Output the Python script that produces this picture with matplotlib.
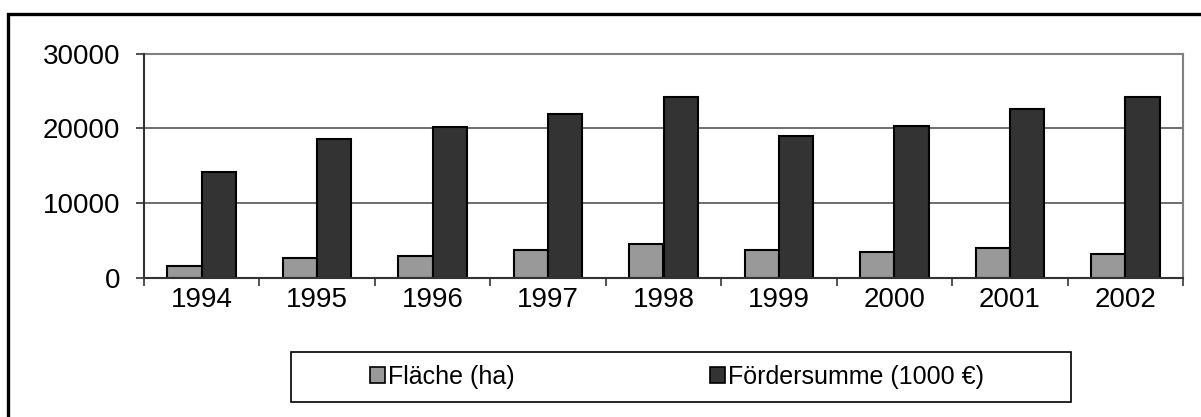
import matplotlib
matplotlib.use("Agg")
import matplotlib.pyplot as plt
from matplotlib.patches import Rectangle, Patch
import numpy as np

plt.rcParams['font.family'] = ['Liberation Sans', 'DejaVu Sans']

years = ["1994", "1995", "1996", "1997", "1998", "1999", "2000", "2001", "2002"]
flaeche = [1600, 2700, 2950, 3700, 4500, 3700, 3450, 3980, 3250]
foerdersumme = [14100, 18600, 20200, 21850, 24250, 18950, 20250, 22650, 24200]
series_labels = ["Fläche (ha)", "Fördersumme (1000 €)"]
yticks = [0, 10000, 20000, 30000]

W, H = 1201, 417
fig = plt.figure(figsize=(W / 100, H / 100), dpi=100)

# outer frame (only left and top visible)
fig.patches.append(Rectangle((8 / W, -0.1), 1.2, (H - 14.5) / H + 0.1,
                             transform=fig.transFigure, fill=False,
                             edgecolor='black', linewidth=2.4))

ax_l, ax_r, ax_t, ax_b = 144, 1183, 53.5, 278
ax = fig.add_axes([ax_l / W, (H - ax_b) / H, (ax_r - ax_l) / W, (ax_b - ax_t) / H])

x = np.arange(len(years))
bw = 0.297
ax.bar(x - bw / 2, flaeche, bw, color='#999999', edgecolor='black', linewidth=1.5, zorder=3)
ax.bar(x + bw / 2, foerdersumme, bw, color='#333333', edgecolor='black', linewidth=1.5, zorder=3)

ax.set_xlim(-0.5, len(years) - 0.5)
ax.set_ylim(0, 30000)
ax.set_yticks(yticks)
ax.set_yticklabels([str(v) for v in yticks])
ax.set_xticks(x)
ax.set_xticklabels(years)
ax.set_xticks(np.arange(len(years) + 1) - 0.5, minor=True)
ax.tick_params(axis='x', which='major', length=0, pad=6.5, labelsize=20)
ax.tick_params(axis='x', which='minor', length=6, width=1.2, color='#333333', direction='out')
ax.tick_params(axis='y', length=6, width=1.2, color='#333333', pad=11, labelsize=20)

ax.grid(axis='y', color='#555555', linewidth=1.2, zorder=0)
for s in ['top', 'right']:
    ax.spines[s].set_color('#808080')
    ax.spines[s].set_linewidth(1.5)
for s in ['left', 'bottom']:
    ax.spines[s].set_color('#333333')
    ax.spines[s].set_linewidth(1.5)
    ax.spines[s].set_zorder(4)

# legend box
lx0, lx1, ly0, ly1 = 291, 1071, 352, 402
fig.patches.append(Rectangle((lx0 / W, (H - ly1) / H), (lx1 - lx0) / W, (ly1 - ly0) / H,
                             transform=fig.transFigure, fill=False,
                             edgecolor='black', linewidth=1.2))
handles = [Patch(facecolor='#999999', edgecolor='black', linewidth=1.2),
           Patch(facecolor='#333333', edgecolor='black', linewidth=1.2)]
fig.legend(handles, series_labels, loc='center',
           bbox_to_anchor=((lx0 + lx1) / 2 / W - 4 / W, (H - (ly0 + ly1) / 2) / H),
           ncol=2, frameon=False, fontsize=18, handlelength=0.62, handleheight=0.62,
           handletextpad=0.12, columnspacing=7.8)

fig.savefig("out.png", dpi=100)
